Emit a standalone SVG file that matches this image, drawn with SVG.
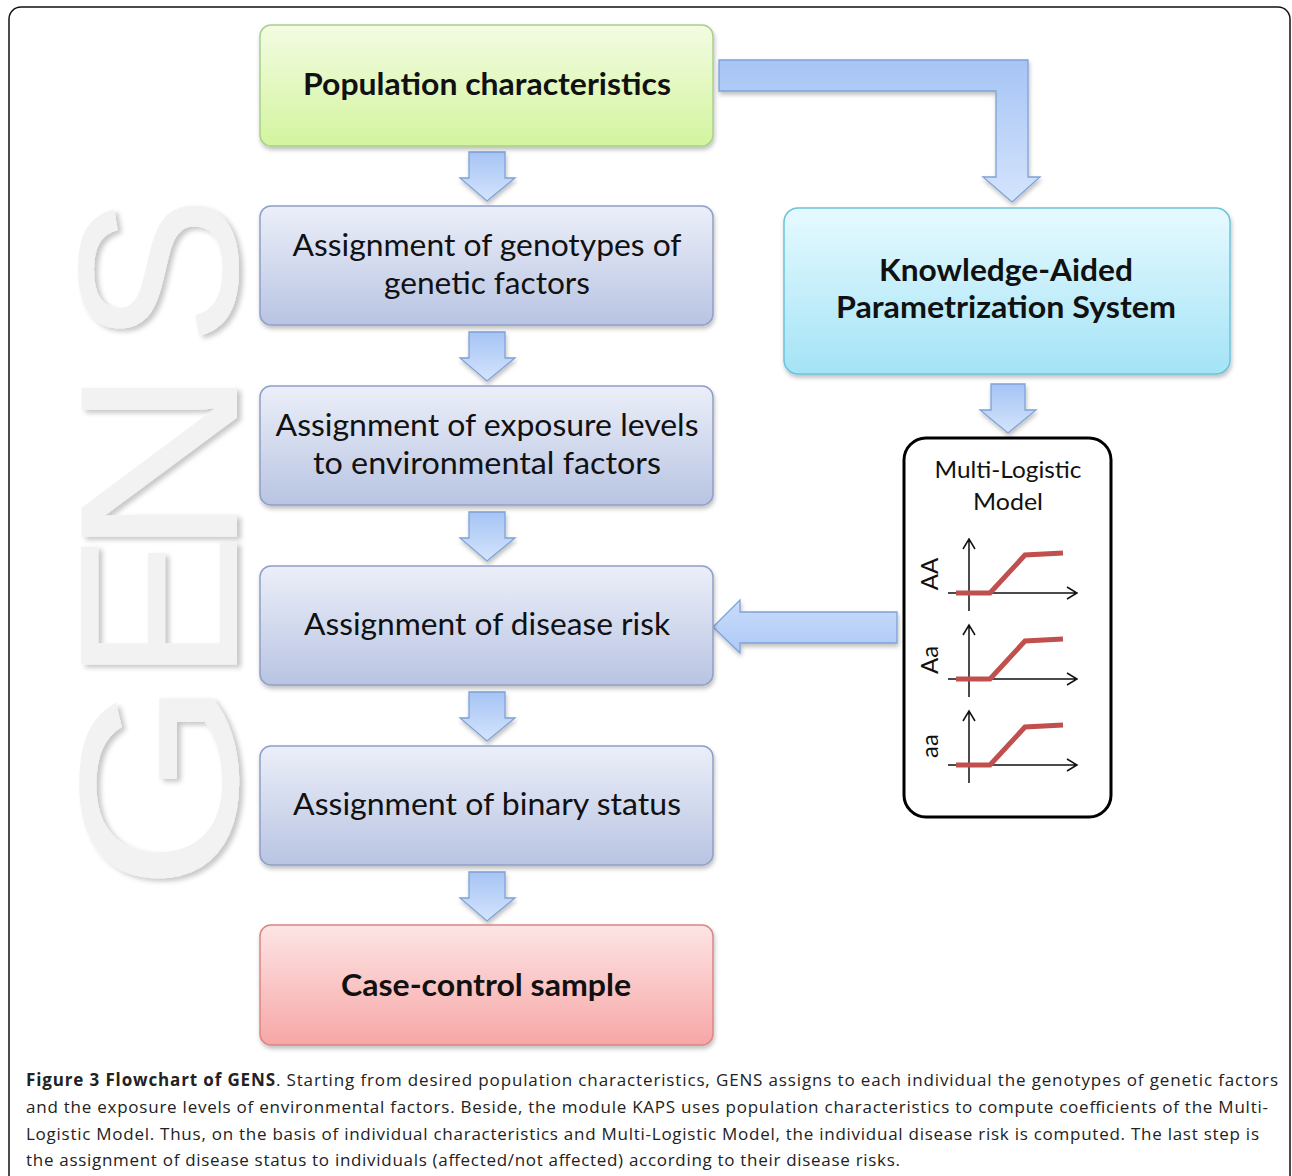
<svg xmlns="http://www.w3.org/2000/svg" width="1292" height="1176" viewBox="0 0 1292 1176">
<defs>
<linearGradient id="gGreen" x1="0" y1="0" x2="0" y2="1"><stop offset="0" stop-color="#f3fce2"/><stop offset="1" stop-color="#d3f49e"/></linearGradient>
<linearGradient id="gBlue" x1="0" y1="0" x2="0" y2="1"><stop offset="0" stop-color="#eceff9"/><stop offset="1" stop-color="#b8c4e2"/></linearGradient>
<linearGradient id="gCyan" x1="0" y1="0" x2="0" y2="1"><stop offset="0" stop-color="#e6faff"/><stop offset="1" stop-color="#a4e3f6"/></linearGradient>
<linearGradient id="gPink" x1="0" y1="0" x2="0" y2="1"><stop offset="0" stop-color="#fde5e5"/><stop offset="1" stop-color="#f7a6a6"/></linearGradient>
<linearGradient id="gArrow" x1="0" y1="0" x2="0" y2="1"><stop offset="0" stop-color="#a6c4f5"/><stop offset="1" stop-color="#d4e4fc"/></linearGradient>
<linearGradient id="gArrowL" x1="0" y1="0" x2="0" y2="1"><stop offset="0" stop-color="#c9dcfb"/><stop offset="1" stop-color="#aec9f6"/></linearGradient>
<filter id="sh" x="-5%" y="-5%" width="110%" height="120%"><feDropShadow dx="1" dy="3" stdDeviation="2" flood-color="#000" flood-opacity="0.25"/></filter>
<filter id="shG" x="-5%" y="-5%" width="115%" height="110%"><feDropShadow dx="4" dy="3" stdDeviation="2.5" flood-color="#000" flood-opacity="0.22"/></filter>
</defs>
<style>
.box{stroke-width:1.5;filter:url(#sh)}
.bt{font-family:Lato,"Open Sans",sans-serif;font-size:30px;fill:#111;text-anchor:middle}
.bb{font-weight:bold}
.arr{fill:url(#gArrow);stroke:#7ea2d8;stroke-width:1.3;filter:url(#sh)}
.ax{fill:none;stroke:#111;stroke-width:1.5}
.curve{fill:none;stroke:#c0504d;stroke-width:5}
.lab{font-family:Lato,"Open Sans",sans-serif;font-size:24px;fill:#111;text-anchor:middle}
.cap{font-family:"Open Sans","Liberation Sans",sans-serif;font-size:17px;fill:#222}
.gens{font-family:"Liberation Sans",Arial,sans-serif;font-size:226px;fill:#f2f2f2}
</style>
<rect width="1292" height="1176" fill="#fff"/>
<rect x="9" y="7" width="1281" height="1200" rx="12" fill="none" stroke="#111" stroke-width="1.5"/>

<g id="watermark" filter="url(#shG)">
<text class="gens" transform="translate(237,880) rotate(-90) scale(1.22,1)" x="-10">G</text>
<text class="gens" transform="translate(237,683) rotate(-90)" x="0">E</text>
<text class="gens" transform="translate(237,542) rotate(-90) scale(1.18,1)" x="-14">N</text>
<text class="gens" transform="translate(237,346) rotate(-90)" x="0">S</text>
</g>

<g id="connectors">
<polygon class="arr" points="469,152 505,152 505,178 515,178 487,201 460,178 469,178"/>
<polygon class="arr" points="469,332 505,332 505,358 515,358 487,381 460,358 469,358"/>
<polygon class="arr" points="469,512 505,512 505,538 515,538 487,561 460,538 469,538"/>
<polygon class="arr" points="469,692 505,692 505,718 515,718 487,741 460,718 469,718"/>
<polygon class="arr" points="469,872 505,872 505,898 515,898 487,921 460,898 469,898"/>
<polygon class="arr" points="719,60 1028,60 1028,177 1040,177 1012,202 983,177 996,177 996,91 719,91"/>
<polygon class="arr" points="991,384 1025,384 1025,410 1036,410 1008,433 980,410 991,410"/>
<polygon class="arr" style="fill:url(#gArrowL)" points="897,612 897,643 740,643 740,653 713,627 740,600 740,612"/>
</g>

<g id="n-population">
<rect class="box" x="260" y="25" width="453" height="121" rx="11" fill="url(#gGreen)" stroke="#a8d08a"/>
<text class="bt bb" x="487" y="95" textLength="368" lengthAdjust="spacingAndGlyphs">Population characteristics</text>
</g>
<g id="n-genotypes">
<rect class="box" x="260" y="206" width="453" height="119" rx="11" fill="url(#gBlue)" stroke="#8e9fc9"/>
<text class="bt" x="487" y="256" textLength="389" lengthAdjust="spacingAndGlyphs">Assignment of genotypes of</text>
<text class="bt" x="487" y="294" textLength="206" lengthAdjust="spacingAndGlyphs">genetic factors</text>
</g>
<g id="n-exposure">
<rect class="box" x="260" y="386" width="453" height="119" rx="11" fill="url(#gBlue)" stroke="#8e9fc9"/>
<text class="bt" x="487" y="436" textLength="423" lengthAdjust="spacingAndGlyphs">Assignment of exposure levels</text>
<text class="bt" x="487" y="474" textLength="348" lengthAdjust="spacingAndGlyphs">to environmental factors</text>
</g>
<g id="n-risk">
<rect class="box" x="260" y="566" width="453" height="119" rx="11" fill="url(#gBlue)" stroke="#8e9fc9"/>
<text class="bt" x="487" y="635" textLength="366" lengthAdjust="spacingAndGlyphs">Assignment of disease risk</text>
</g>
<g id="n-binary">
<rect class="box" x="260" y="746" width="453" height="119" rx="11" fill="url(#gBlue)" stroke="#8e9fc9"/>
<text class="bt" x="487" y="815" textLength="388" lengthAdjust="spacingAndGlyphs">Assignment of binary status</text>
</g>
<g id="n-casecontrol">
<rect class="box" x="260" y="925" width="453" height="120" rx="11" fill="url(#gPink)" stroke="#dc8585"/>
<text class="bt bb" x="486" y="996" textLength="290" lengthAdjust="spacingAndGlyphs">Case-control sample</text>
</g>
<g id="n-kaps">
<rect class="box" x="784" y="208" width="446" height="166" rx="14" fill="url(#gCyan)" stroke="#6cc3dc"/>
<text class="bt bb" x="1006" y="281" textLength="254" lengthAdjust="spacingAndGlyphs">Knowledge-Aided</text>
<text class="bt bb" x="1006" y="318" textLength="340" lengthAdjust="spacingAndGlyphs">Parametrization System</text>
</g>

<g id="n-model">
<rect x="904" y="438" width="207" height="379" rx="22" fill="#fff" stroke="#000" stroke-width="3"/>
<text class="lab" x="1008" y="478" textLength="147" lengthAdjust="spacingAndGlyphs">Multi-Logistic</text>
<text class="lab" x="1008" y="510" textLength="70" lengthAdjust="spacingAndGlyphs">Model</text>
<g id="plot-AA">
<path class="ax" d="M969,611V539M963,549L969,539L975,549M948,593H1077M1067,587L1077,593L1067,599"/>
<path class="curve" d="M956,593H990L1025,555L1063,553"/>
<text class="lab" transform="translate(938,574) rotate(-90)" x="0" y="0">AA</text>
</g>
<g id="plot-Aa">
<path class="ax" d="M969,697V625M963,635L969,625L975,635M948,679H1077M1067,673L1077,679L1067,685"/>
<path class="curve" d="M956,679H990L1025,641L1063,639"/>
<text class="lab" transform="translate(938,660) rotate(-90)" x="0" y="0">Aa</text>
</g>
<g id="plot-aa">
<path class="ax" d="M969,783V711M963,721L969,711L975,721M948,765H1077M1067,759L1077,765L1067,771"/>
<path class="curve" d="M956,765H990L1025,727L1063,725"/>
<text class="lab" transform="translate(938,746) rotate(-90)" x="0" y="0">aa</text>
</g>
</g>

<g id="caption">
<text class="cap" x="26" y="1086" textLength="1252" lengthAdjust="spacing"><tspan font-weight="bold">Figure 3 Flowchart of GENS</tspan>. Starting from desired population characteristics, GENS assigns to each individual the genotypes of genetic factors</text>
<text class="cap" x="26" y="1113" textLength="1242" lengthAdjust="spacing">and the exposure levels of environmental factors. Beside, the module KAPS uses population characteristics to compute coefficients of the Multi-</text>
<text class="cap" x="26" y="1140" textLength="1233" lengthAdjust="spacing">Logistic Model. Thus, on the basis of individual characteristics and Multi-Logistic Model, the individual disease risk is computed. The last step is</text>
<text class="cap" x="26" y="1166" textLength="874" lengthAdjust="spacing">the assignment of disease status to individuals (affected/not affected) according to their disease risks.</text>
</g>
</svg>
